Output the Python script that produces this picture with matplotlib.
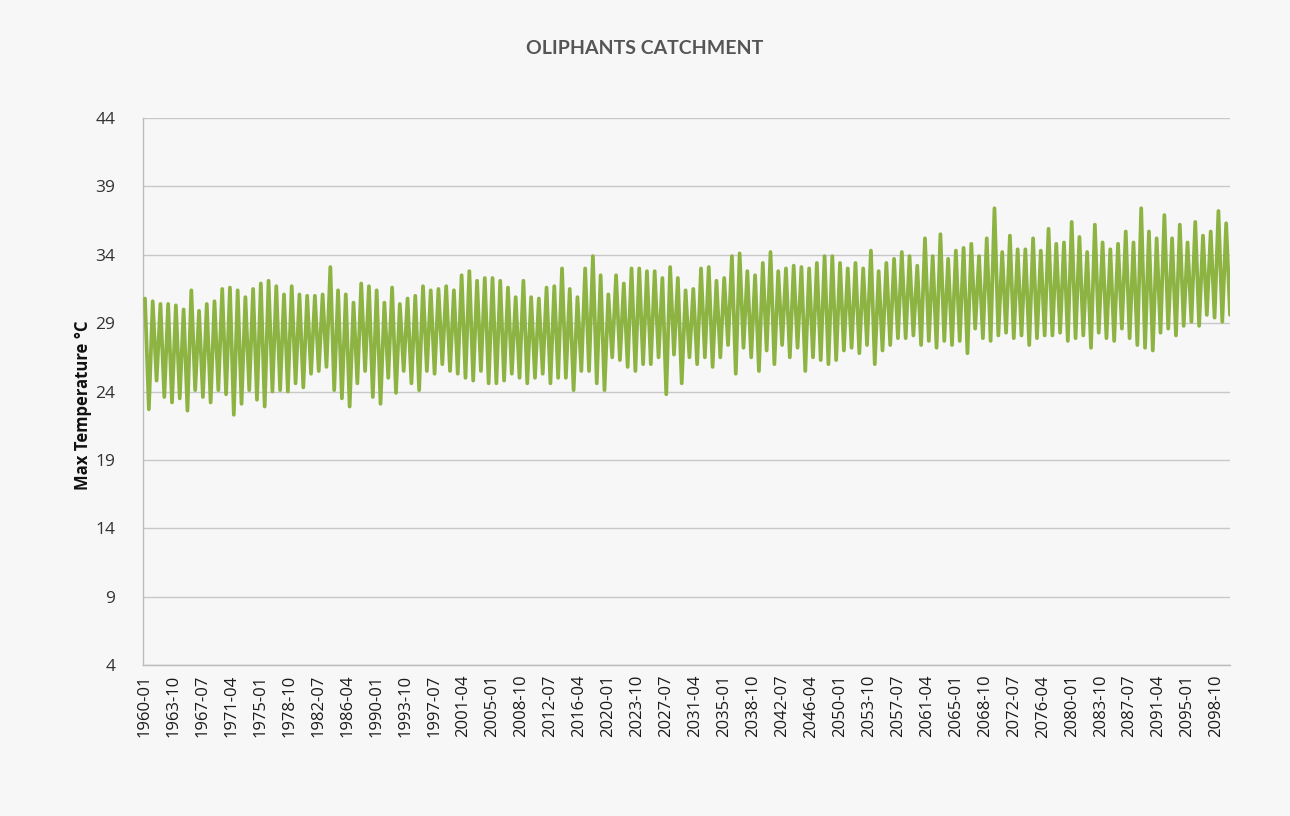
import numpy as np
import matplotlib
matplotlib.use("Agg")
import matplotlib.pyplot as plt

# Annual summer peak (January) and winter low (July) of monthly max temperature, 1960-2100
years = list(range(1960, 2101))

summer_peak = [
    # 1960-1976
    30.8, 30.6, 30.4, 30.4, 30.3, 30.0, 31.4, 29.9, 30.4, 30.6, 31.5, 31.6, 31.4, 30.9, 31.5, 31.9, 32.1,
    # 1977-1994
    31.7, 31.1, 31.7, 31.1, 31.0, 31.0, 31.1, 33.1, 31.4, 31.1, 30.5, 31.9, 31.7, 31.4, 30.5, 31.6, 30.4, 30.8,
    # 1995-2011
    31.0, 31.7, 31.4, 31.5, 31.7, 31.4, 32.5, 32.8, 32.1, 32.3, 32.3, 32.1, 31.6, 30.9, 32.1, 30.9, 30.8,
    # 2012-2029
    31.6, 31.7, 33.0, 31.5, 30.9, 33.0, 33.9, 32.5, 31.1, 32.5, 31.9, 33.0, 33.0, 32.8, 32.8, 32.3, 33.1, 32.3,
    # 2030-2046
    31.4, 31.5, 33.0, 33.1, 32.1, 32.3, 33.9, 34.1, 32.8, 32.5, 33.4, 34.2, 32.8, 33.0, 33.2, 33.1, 33.0,
    # 2047-2063
    33.4, 33.9, 33.9, 33.4, 33.0, 33.4, 33.0, 34.3, 32.8, 33.4, 33.7, 34.2, 33.9, 33.2, 35.2, 33.9, 35.5,
    # 2064-2081
    33.7, 34.3, 34.5, 34.8, 33.9, 35.2, 37.4, 34.2, 35.4, 34.4, 34.4, 35.2, 34.3, 35.9, 34.8, 34.9, 36.4, 35.3,
    # 2082-2100
    34.2, 36.2, 34.9, 34.4, 34.8, 35.7, 34.9, 37.4, 35.7, 35.2, 36.9, 35.2, 36.2, 34.9, 36.4, 35.4, 35.7, 37.2, 36.3,
]

winter_low = [
    # 1960-1976
    22.7, 24.8, 23.6, 23.2, 23.5, 22.6, 24.1, 23.6, 23.2, 24.1, 23.8, 22.3, 23.1, 24.1, 23.4, 22.9, 24.0,
    # 1977-1994
    24.1, 24.0, 24.6, 24.3, 25.3, 25.5, 25.8, 24.1, 23.5, 22.9, 24.6, 25.5, 23.6, 23.1, 25.0, 23.9, 25.5, 24.6,
    # 1995-2011
    24.1, 25.5, 25.3, 26.0, 25.5, 25.3, 25.0, 24.8, 25.5, 24.6, 24.6, 24.8, 25.3, 25.0, 24.6, 25.0, 25.3,
    # 2012-2029
    24.6, 25.0, 25.0, 24.1, 25.5, 25.5, 24.6, 24.1, 26.5, 26.3, 25.8, 25.5, 26.0, 26.0, 26.5, 23.8, 26.7, 24.6,
    # 2030-2046
    26.5, 26.0, 26.5, 25.8, 26.5, 27.4, 25.3, 27.2, 26.5, 25.5, 27.0, 26.0, 27.4, 26.5, 27.2, 25.5, 26.5,
    # 2047-2063
    26.3, 26.0, 26.3, 27.0, 27.2, 26.8, 27.4, 26.0, 27.0, 27.4, 27.9, 27.9, 28.1, 27.4, 27.7, 27.2, 27.7,
    # 2064-2081
    27.4, 27.7, 26.8, 28.6, 27.9, 27.7, 28.1, 28.3, 27.9, 28.1, 27.4, 27.9, 28.1, 28.1, 28.3, 27.7, 27.9, 28.1,
    # 2082-2100
    27.2, 28.3, 27.9, 27.7, 28.6, 27.9, 27.4, 27.2, 27.0, 28.3, 28.6, 28.1, 28.8, 29.1, 28.8, 29.6, 29.4, 29.1, 29.6,
]

y_ticks = [4, 9, 14, 19, 24, 29, 34, 39, 44]
title = "OLIPHANTS CATCHMENT"
y_label = "Max Temperature °C"

# Monthly category axis: one slot per month from 1960-01 to 2100-12
n_months = len(years) * 12
month_labels = [f"{y}-{m:02d}" for y in years for m in range(1, 13)]

# Peaks sit in January, lows in July of each year
x_pts, y_pts = [], []
for i in range(len(years)):
    x_pts += [12 * i, 12 * i + 6]
    y_pts += [summer_peak[i], winter_low[i]]

plt.rcParams["font.family"] = ["Open Sans", "DejaVu Sans"]

bg = "#F7F7F7"
fig = plt.figure(figsize=(12.9, 8.16), dpi=100, facecolor=bg)
ax = fig.add_axes([0.1109, 0.185, 0.8426, 0.6704], facecolor=bg)

ax.plot(x_pts, y_pts, color="#8DB343", lw=2.7, solid_joinstyle="round",
        solid_capstyle="round", zorder=3)

ax.set_xlim(-3, n_months - 6)
ax.set_ylim(4, 44)
ax.set_yticks(y_ticks)
ax.set_yticklabels([str(t) for t in y_ticks], fontsize=12.5, color="#333333")

tick_pos = list(range(0, n_months - 12, 45))
ax.set_xticks(tick_pos)
ax.set_xticklabels([month_labels[p] for p in tick_pos], rotation=90,
                   fontsize=12, color="#1a1a1a")

ax.grid(axis="y", color="#C8C8C8", lw=1.0)
ax.set_axisbelow(True)
for side in ("top", "right"):
    ax.spines[side].set_visible(False)
for side in ("left", "bottom"):
    ax.spines[side].set_color("#BBBBBB")
    ax.spines[side].set_linewidth(1.0)
ax.tick_params(axis="y", length=0, pad=20)
ax.tick_params(axis="x", length=0, pad=7)

ax.set_ylabel(y_label, fontsize=12, fontweight="bold", color="#111111")
ax.yaxis.set_label_coords(-0.047, 0.475)
fig.text(0.5, 0.941, title, ha="center", va="center", fontsize=14,
         fontweight="bold", color="#555555", family=["Lato", "DejaVu Sans"])

fig.savefig("out.png", dpi=100, facecolor=bg)
